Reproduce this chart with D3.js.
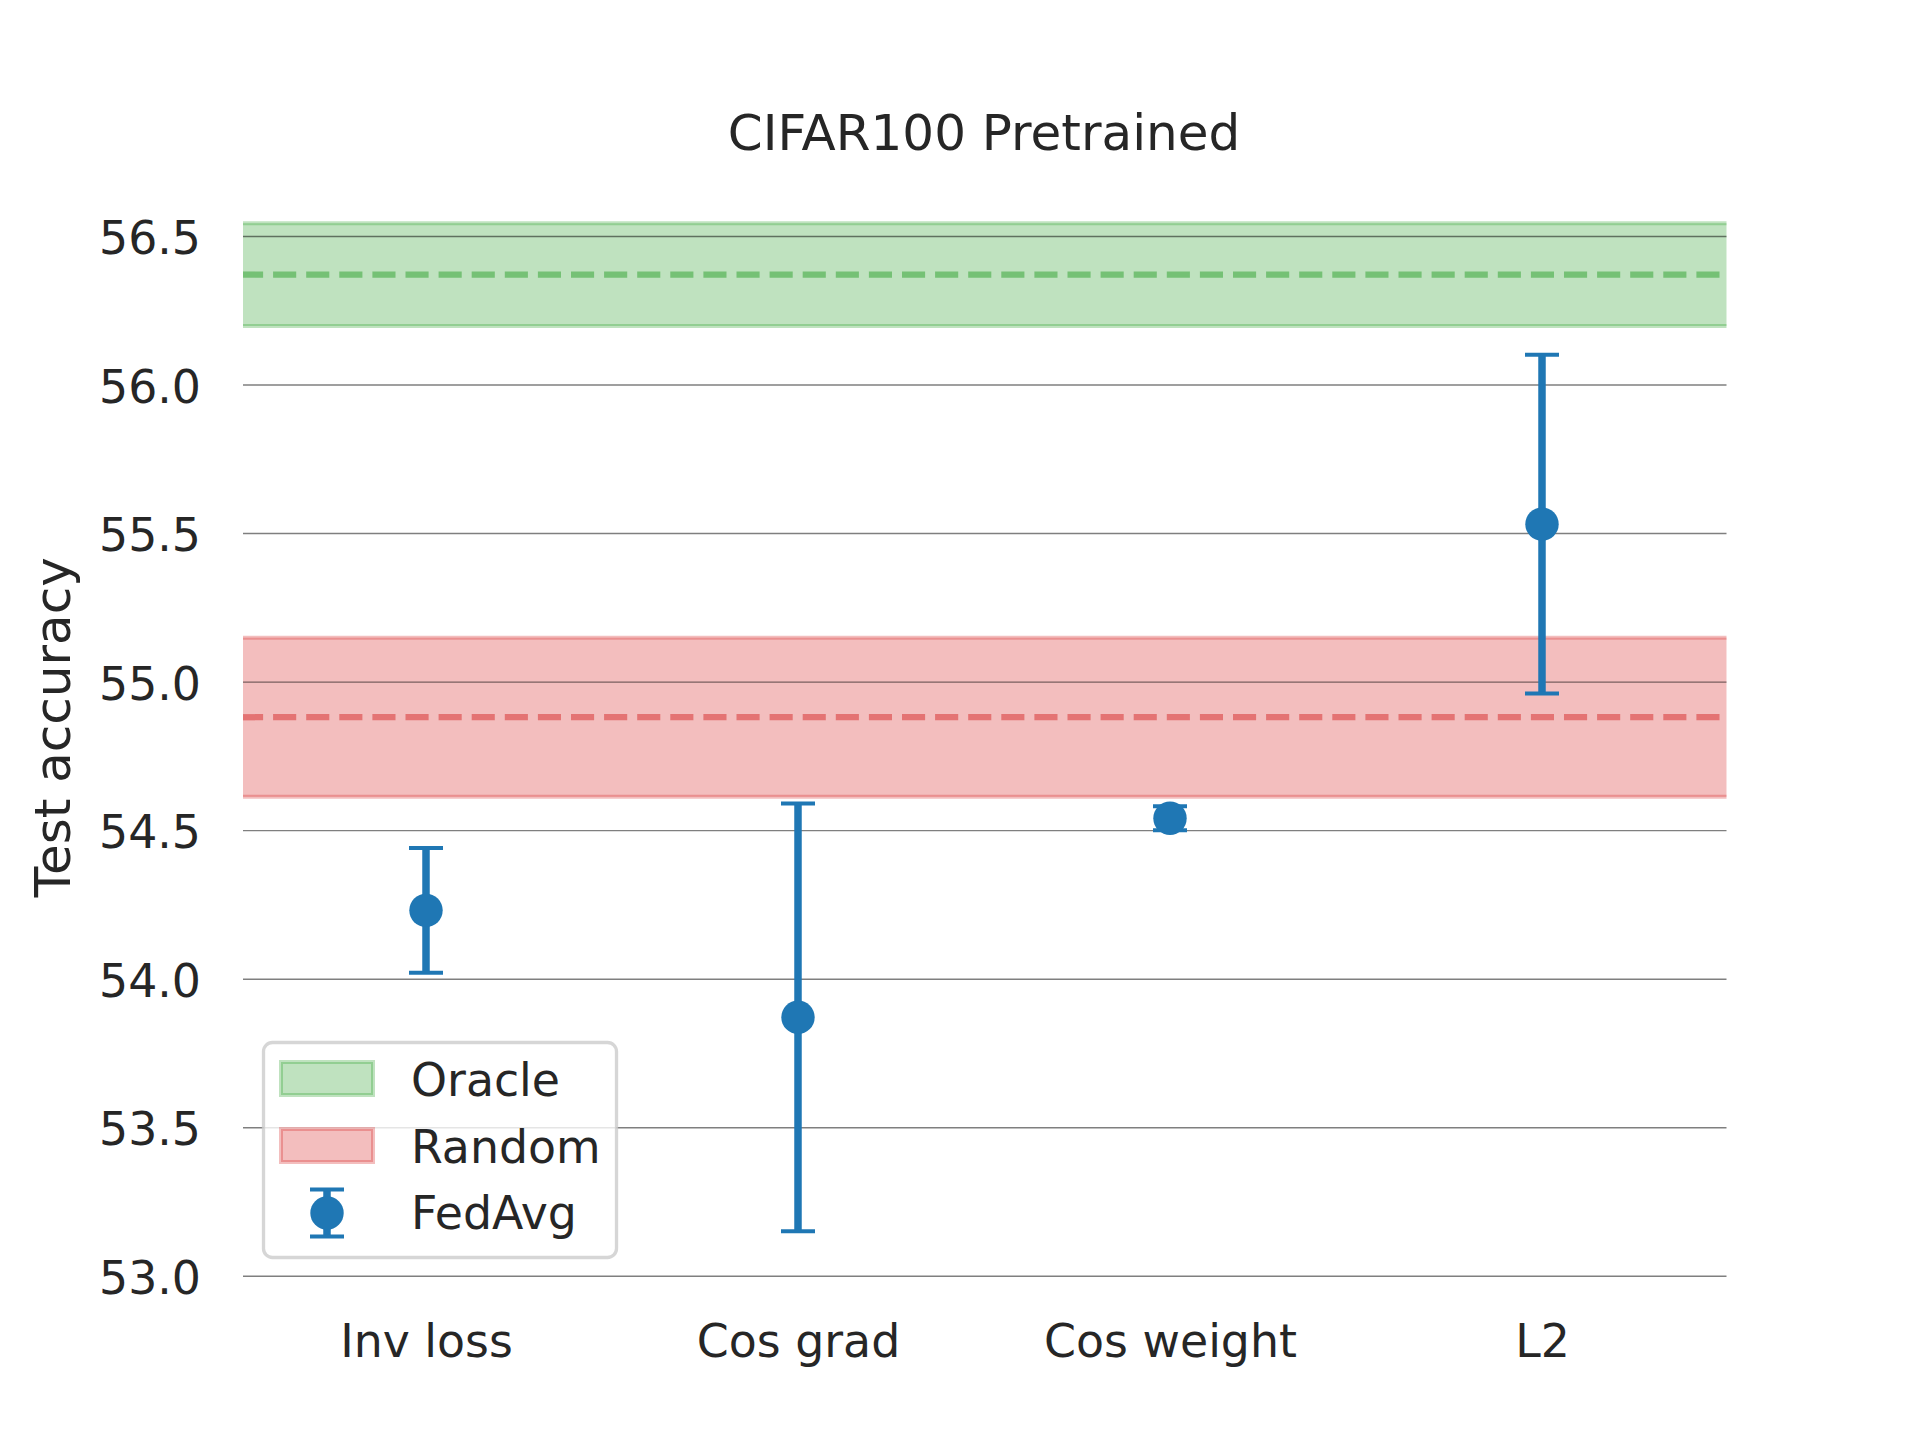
<!DOCTYPE html>
<html>
<head>
<meta charset="utf-8">
<script src="https://cdn.jsdelivr.net/npm/d3@7"></script>
<style>
  body { margin: 0; background: #ffffff; }
  text { font-family: "DejaVu Sans", sans-serif; fill: #262626; }
</style>
</head>
<body>
<svg id="chart" width="1920" height="1440"></svg>
<script>
// ---- data ----
const categories = ["Inv loss", "Cos grad", "Cos weight", "L2"];
const fedavgMean = [54.23, 53.87, 54.54, 55.53];
const fedavgErr  = [0.21, 0.72, 0.04, 0.57];
const oracleMean = 56.37;
const oracleStd  = 0.173;
const randomMean = 54.88;
const randomStd  = 0.268;
const yTicks = [53.0, 53.5, 54.0, 54.5, 55.0, 55.5, 56.0, 56.5];
const legendLabels = ["Oracle", "Random", "FedAvg"];
const titleText = "CIFAR100 Pretrained";
const yLabelText = "Test accuracy";

// ---- layout ----
const svg = d3.select("#chart");
const L = 240, R = 1728, T = 172.8, B = 1281.6;
const GL = 243, GR = 1726.5; // visible extent of grid and bands
const C0 = "#1f77b4", C2 = "#2ca02c", C3 = "#d62728";
const TICK_FS = 45.8, LABEL_FS = 50;

// auto-limits with 5% margins, matplotlib-style
const lows = fedavgMean.map((m, i) => m - fedavgErr[i]).concat([oracleMean - oracleStd, randomMean - randomStd]);
const highs = fedavgMean.map((m, i) => m + fedavgErr[i]).concat([oracleMean + oracleStd, randomMean + randomStd]);
const dmin = d3.min(lows), dmax = d3.max(highs), span = dmax - dmin;

const x = d3.scalePoint().domain(categories).range([L, R]).padding(0.5);
const y = d3.scaleLinear().domain([dmin - 0.05 * span, dmax + 0.05 * span]).range([B, T]);

// ---- bands ----
const bands = [
  {mean: oracleMean, std: oracleStd, color: C2},
  {mean: randomMean, std: randomStd, color: C3}
];
bands.forEach(b => {
  const g = svg.append("g");
  g.append("rect")
    .attr("x", GL).attr("width", GR - GL)
    .attr("y", y(b.mean + b.std)).attr("height", y(b.mean - b.std) - y(b.mean + b.std))
    .attr("fill", b.color).attr("fill-opacity", 0.3);
  [b.mean + b.std, b.mean - b.std].forEach(v => {
    g.append("line").attr("x1", GL).attr("x2", GR).attr("y1", y(v)).attr("y2", y(v))
      .attr("stroke", b.color).attr("stroke-opacity", 0.3).attr("stroke-width", 4);
  });
});

// ---- grid (above bands) ----
const yAxis = d3.axisLeft(y).tickValues(yTicks).tickSize(-(GR - GL)).tickFormat(d3.format(".1f")).tickPadding(42);
const ga = svg.append("g").attr("transform", `translate(${GL},0)`).call(yAxis);
ga.select(".domain").remove();
ga.selectAll(".tick line").attr("stroke", "#000").attr("stroke-opacity", 0.5).attr("stroke-width", 1.4);
ga.selectAll(".tick text")
  .attr("font-size", TICK_FS).attr("fill", "#262626").attr("font-family", "DejaVu Sans")
  .attr("dy", 17.5);

// ---- dashed mean lines ----
bands.forEach(b => {
  svg.append("line").attr("x1", GL).attr("x2", GR).attr("y1", y(b.mean)).attr("y2", y(b.mean))
    .attr("stroke", b.color).attr("stroke-opacity", 0.5).attr("stroke-width", 6.25)
    .attr("stroke-dasharray", "23.1,10").attr("stroke-dashoffset", GL - L);
});

// ---- x tick labels ----
const xAxis = d3.axisBottom(x).tickSize(0).tickPadding(0);
const gx = svg.append("g").attr("transform", `translate(0,${B})`).call(xAxis);
gx.select(".domain").remove();
gx.selectAll(".tick text").attr("font-size", TICK_FS).attr("fill", "#262626")
  .attr("font-family", "DejaVu Sans").attr("y", 0).attr("dy", 75.5);

// ---- error bars ----
const eb = svg.append("g");
categories.forEach((c, i) => {
  const cx = x(c), m = fedavgMean[i], e = fedavgErr[i];
  eb.append("line").attr("x1", cx).attr("x2", cx).attr("y1", y(m - e)).attr("y2", y(m + e))
    .attr("stroke", C0).attr("stroke-width", 7.5);
  [m - e, m + e].forEach(v => {
    eb.append("line").attr("x1", cx - 17).attr("x2", cx + 17).attr("y1", y(v)).attr("y2", y(v))
      .attr("stroke", C0).attr("stroke-width", 4);
  });
  eb.append("circle").attr("cx", cx).attr("cy", y(m)).attr("r", 16.7).attr("fill", C0);
});

// ---- title & y label ----
svg.append("text").attr("x", (L + R) / 2).attr("y", 150).attr("text-anchor", "middle")
  .attr("font-size", LABEL_FS).text(titleText);
svg.append("text").attr("transform", `translate(70,${(T + B) / 2}) rotate(-90)`)
  .attr("text-anchor", "middle").attr("font-size", LABEL_FS).text(yLabelText);

// ---- legend ----
const lg = svg.append("g");
lg.append("rect").attr("x", 263.5).attr("y", 1042.5).attr("width", 353).attr("height", 215)
  .attr("rx", 9).attr("fill", "#ffffff").attr("fill-opacity", 0.8)
  .attr("stroke", "#cccccc").attr("stroke-opacity", 0.8).attr("stroke-width", 3.3);
const rowY = [1096, 1163, 1229];
[C2, C3].forEach((col, i) => {
  lg.append("rect").attr("x", 281).attr("y", rowY[i] - 34).attr("width", 92).attr("height", 33)
    .attr("fill", col).attr("fill-opacity", 0.3)
    .attr("stroke", col).attr("stroke-opacity", 0.3).attr("stroke-width", 4);
});
const lcx = 327, lcy = 1213;
lg.append("line").attr("x1", lcx).attr("x2", lcx).attr("y1", lcy - 24).attr("y2", lcy + 24)
  .attr("stroke", C0).attr("stroke-width", 7.5);
[lcy - 23.5, lcy + 23.5].forEach(v => {
  lg.append("line").attr("x1", lcx - 17).attr("x2", lcx + 17).attr("y1", v).attr("y2", v)
    .attr("stroke", C0).attr("stroke-width", 4);
});
lg.append("circle").attr("cx", lcx).attr("cy", lcy).attr("r", 16.7).attr("fill", C0);
legendLabels.forEach((t, i) => {
  lg.append("text").attr("x", 411).attr("y", rowY[i]).attr("font-size", TICK_FS).text(t);
});
</script>
</body>
</html>
